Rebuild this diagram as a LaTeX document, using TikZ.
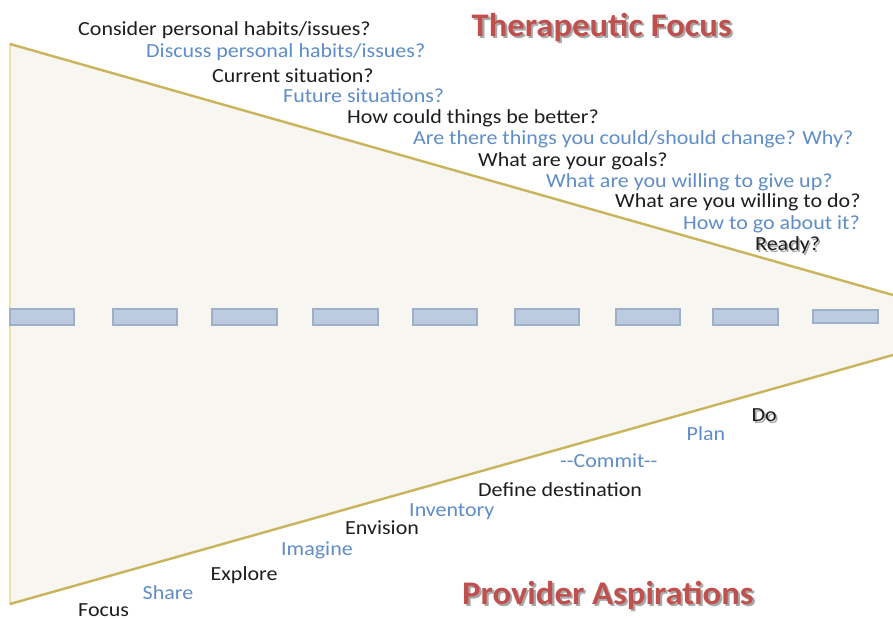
\documentclass[tikz,border=0pt]{standalone}
\usepackage{fontspec}
\setmainfont{Carlito}
\usepackage{graphicx}
\definecolor{ink}{HTML}{1E1E1E}
\definecolor{askblue}{HTML}{5F8DC8}
\definecolor{titlered}{HTML}{C0504D}
\definecolor{rimgold}{HTML}{C9B45C}
\definecolor{rimpale}{HTML}{EFE0A6}
\definecolor{funnelfill}{HTML}{F8F6F1}
\definecolor{barfill}{HTML}{BCCBE0}
\definecolor{barline}{HTML}{9DAFC9}
\definecolor{shadowgrey}{HTML}{A8A8A8}
\newcommand{\wideline}[1]{\scalebox{1.1}[1]{#1}}
\newcommand{\widetitle}[1]{\scalebox{1.05}[1]{#1}}
% text with a soft grey drop shadow set behind it, inside one box
\newcommand{\dropshadow}[2]{\makebox[0pt][l]{\hspace{#1}\raisebox{-#1}{\color{shadowgrey}#2}}#2}
\tikzset{
  txt/.style={anchor=base west, inner sep=0pt, font=\fontsize{20}{24}\selectfont},
  blk/.style={txt, text=ink},
  blu/.style={txt, text=askblue},
  ttl/.style={anchor=base west, inner sep=0pt, font=\fontsize{33}{38}\selectfont\bfseries, text=titlered},
  rim/.style={draw=rimgold, line width=2.4pt},
  barbox/.style={fill=barfill, draw=barline, line width=1.3pt}
}
\begin{document}
\begin{tikzpicture}[x=1pt, y=-1pt]
  \useasboundingbox (0,0) rectangle (893,620);
  \fill[white] (0,0) rectangle (893,620);

  % funnel body
  \coordinate (tl) at (10,44);
  \coordinate (tr) at (893,295);
  \coordinate (br) at (893,355);
  \coordinate (bl) at (10,604);
  \fill[funnelfill] (tl) -- (tr) -- (br) -- (bl) -- cycle;
  \draw[draw=rimpale, line width=2.4pt] (tl) -- (bl);
  \draw[rim] (tl) -- (tr);
  \draw[rim] (bl) -- (br);

  % dashed centre line
  \foreach \xa/\xb in {10/74, 113/177, 212/277, 313/378, 413/477, 515/579, 616/680, 713/778}
    \draw[barbox] (\xa,309) rectangle (\xb,325);
  \draw[barbox] (813,310) rectangle (878,323);

  % titles
  \node[ttl] (tf) at (471.5,36.5) {\widetitle{\dropshadow{2pt}{Therapeutic Focus}}};
  \node[ttl] (pa) at (462,604) {\widetitle{\dropshadow{2pt}{Provider Aspirations}}};

  % questions along the upper edge
  \node[blk] (q1)  at (78,36)    {\wideline{Consider personal habits/issues?}};
  \node[blu] (q2)  at (146,58)   {\wideline{Discuss personal habits/issues?}};
  \node[blk] (q3)  at (212,82.5) {\wideline{Current situation?}};
  \node[blu] (q4)  at (283,103)  {\wideline{Future situations?}};
  \node[blk] (q5)  at (347,124)  {\wideline{How could things be better?}};
  \node[blu] (q6)  at (413,145)  {\wideline{Are there things you could/should change? Why?}};
  \node[blk] (q7)  at (478,166.5){\wideline{What are your goals?}};
  \node[blu] (q8)  at (546,188)  {\wideline{What are you willing to give up?}};
  \node[blk] (q9)  at (615,208)  {\wideline{What are you willing to do?}};
  \node[blu] (q10) at (683,229.5){\wideline{How to go about it?}};
  \node[blk] (q11) at (755,251)  {\wideline{\dropshadow{1.5pt}{Ready?}}};

  % steps along the lower edge
  \node[blk] (s1)  at (751.5,421.5) {\wideline{\dropshadow{1.5pt}{Do}}};
  \node[blu] (s2)  at (686.5,440)   {\wideline{Plan}};
  \node[blu] (s3)  at (560,467)     {\wideline{-{}-Commit-{}-}};
  \node[blk] (s4)  at (478,496)     {\wideline{Define destination}};
  \node[blu] (s5)  at (409,516.5)   {\wideline{Inventory}};
  \node[blk] (s6)  at (345,534.5)   {\wideline{Envision}};
  \node[blu] (s7)  at (281,555)     {\wideline{Imagine}};
  \node[blk] (s8)  at (210.5,580.5) {\wideline{Explore}};
  \node[blu] (s9)  at (142.5,599)   {\wideline{Share}};
  \node[blk] (s10) at (78,616.5)    {\wideline{Focus}};
\end{tikzpicture}
\end{document}
